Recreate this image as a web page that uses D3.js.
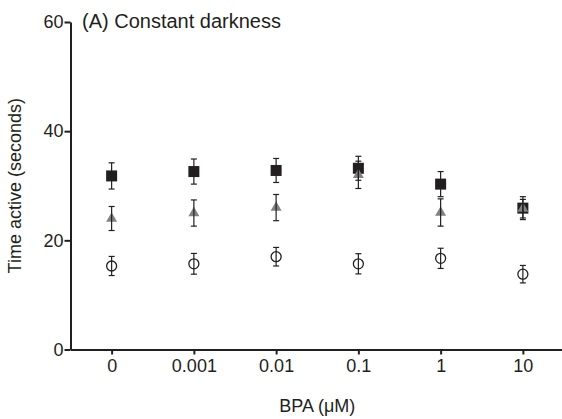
<!DOCTYPE html>
<html>
<head>
<meta charset="utf-8">
<script src="https://cdn.jsdelivr.net/npm/d3@7"></script>
<style>
  body { margin: 0; background: white; }
  svg { display: block; font-family: "Liberation Sans", Arial, sans-serif; }
  .axis path, .axis line { stroke: #231f20; }
  .axis text { fill: #231f20; font-size: 18px; }
</style>
</head>
<body>
<svg id="chart"></svg>
<script>
// BPA doses (categories on the x axis)
const doses = ["0", "0.001", "0.01", "0.1", "1", "10"];
const yTicks = [0, 20, 40, 60];

// filled squares
const squareMean = [31.8, 32.6, 32.8, 33.2, 30.3, 25.9];
const squareErr  = [2.4, 2.3, 2.2, 2.2, 2.3, 2.1];
// grey triangles
const triMean = [24.0, 25.0, 26.0, 32.0, 25.1, 25.8];
const triErr  = [2.2, 2.4, 2.4, 2.5, 2.5, 1.7];
// open circles
const circleMean = [15.3, 15.7, 17.0, 15.7, 16.7, 13.8];
const circleErr  = [1.75, 1.9, 1.7, 1.85, 1.85, 1.6];

const width = 562, height = 419;
const svg = d3.select("#chart").attr("width", width).attr("height", height);

const x = d3.scalePoint()
    .domain(doses)
    .range([70.5, 564])
    .padding(0.5);

const y = d3.scaleLinear()
    .domain([0, 60])
    .range([349.5, 22]);

const ink = "#231f20";

// markers first, error bars on top (they show through the open circles)
svg.selectAll(".circle")
    .data(doses)
    .enter()
    .append("circle")
    .attr("cx", d => x(d))
    .attr("cy", (d, i) => y(circleMean[i]))
    .attr("r", 5)
    .attr("fill", "white")
    .attr("stroke", ink)
    .attr("stroke-width", 1.3);

svg.selectAll(".square")
    .data(doses)
    .enter()
    .append("rect")
    .attr("x", d => x(d) - 5.5)
    .attr("y", (d, i) => y(squareMean[i]) - 5.5)
    .attr("width", 11)
    .attr("height", 11)
    .attr("fill", ink);

const tri = d3.symbol().type(d3.symbolTriangle).size(52);
svg.selectAll(".tri")
    .data(doses)
    .enter()
    .append("path")
    .attr("d", tri)
    .attr("transform", (d, i) => `translate(${x(d)},${y(triMean[i])})`)
    .attr("fill", "#808285");

// error bars
function errorBars(means, errs) {
    const g = svg.append("g")
        .attr("stroke", ink)
        .attr("stroke-width", 1.2)
        .attr("fill", "none");
    doses.forEach((d, i) => {
        const cx = x(d);
        const top = y(means[i] + errs[i]);
        const bot = y(means[i] - errs[i]);
        g.append("line").attr("x1", cx).attr("x2", cx).attr("y1", top).attr("y2", bot);
        g.append("line").attr("x1", cx - 3).attr("x2", cx + 3).attr("y1", top).attr("y2", top);
        g.append("line").attr("x1", cx - 3).attr("x2", cx + 3).attr("y1", bot).attr("y2", bot);
    });
}
errorBars(circleMean, circleErr);
errorBars(squareMean, squareErr);
errorBars(triMean, triErr);

// axes
const yAxis = d3.axisLeft(y)
    .tickValues(yTicks)
    .tickSize(6)
    .tickSizeOuter(0)
    .tickPadding(1);

svg.append("g")
    .attr("class", "axis y-axis")
    .attr("transform", "translate(70.5,0)")
    .call(yAxis)
    .call(g => g.selectAll("path, line").attr("stroke-width", 2));

const xAxis = d3.axisBottom(x)
    .tickSize(5)
    .tickSizeOuter(0)
    .tickPadding(5);

svg.append("g")
    .attr("class", "axis x-axis")
    .attr("transform", "translate(0,349.5)")
    .call(xAxis)
    .call(g => g.selectAll("path, line").attr("stroke-width", 2));

// axis titles
svg.append("text")
    .attr("x", (70.5 + 564) / 2)
    .attr("y", 412)
    .attr("text-anchor", "middle")
    .attr("font-size", 18)
    .attr("fill", ink)
    .text("BPA (\u03bcM)");

svg.append("text")
    .attr("transform", `translate(21,${y(30)}) rotate(-90)`)
    .attr("text-anchor", "middle")
    .attr("font-size", 18)
    .attr("fill", ink)
    .text("Time active (seconds)");

// panel title
svg.append("text")
    .attr("x", 82)
    .attr("y", 28)
    .attr("font-size", 20)
    .attr("fill", ink)
    .text("(A) Constant darkness");
</script>
</body>
</html>
